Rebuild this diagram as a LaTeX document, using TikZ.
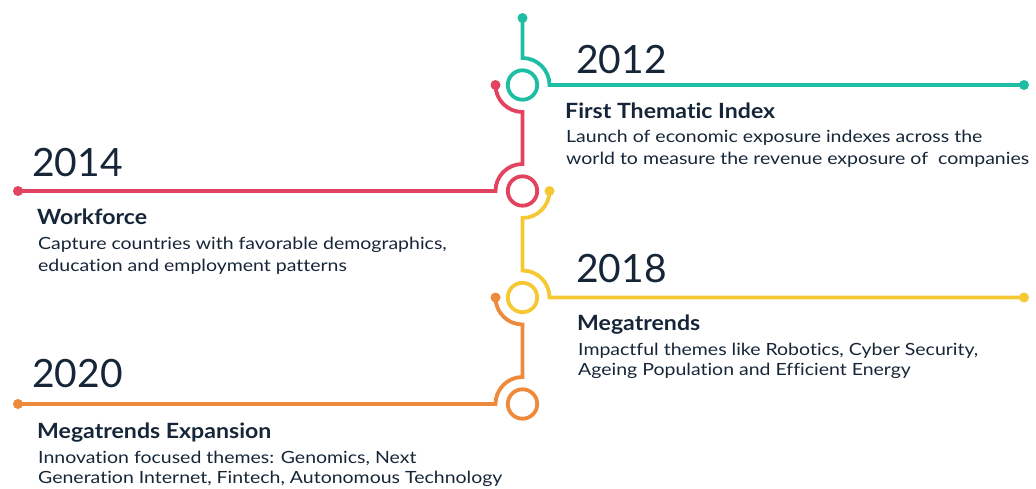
\documentclass[tikz,border=0pt]{standalone}
\usepackage{fontspec}
\setmainfont{Lato}[Ligatures=NoCommon]
\newfontfamily\headfont{Lato}[Ligatures=NoCommon,FakeStretch=1.10]
\newfontfamily\bodyfont{Lato}[Ligatures=NoCommon,FakeStretch=1.16]
\definecolor{tealc}{RGB}{30,190,164}
\definecolor{redc}{RGB}{226,68,95}
\definecolor{yellowc}{RGB}{246,200,52}
\definecolor{orangec}{RGB}{238,138,60}
\definecolor{ink}{RGB}{22,38,56}
\begin{document}
\begin{tikzpicture}[x=1pt,y=1pt,
  trackline/.style={line width=3.8pt},
  dotmark/.style={circle,fill,inner sep=0pt,minimum size=10pt},
  ringmark/.style={circle,draw,line width=3.8pt,inner sep=0pt,minimum size=29.4pt},
  yearlabel/.style={anchor=base west,inner sep=0pt,text=ink,font=\fontsize{39}{39}\selectfont},
  headlabel/.style={anchor=base west,inner sep=0pt,text=ink,font=\headfont\fontsize{21}{21}\selectfont\bfseries},
  bodylabel/.style={anchor=base west,inner sep=0pt,text=ink,font=\bodyfont\fontsize{16.8}{17}\selectfont}]
\useasboundingbox (0,0) rectangle (1036,-489);

% rings on the central spine
\node[ringmark,tealc]   (c1) at (522.5,-85) {};
\node[ringmark,redc]    (c2) at (522.5,-191) {};
\node[ringmark,yellowc] (c3) at (522.5,-297.5) {};
\node[ringmark,orangec] (c4) at (522.5,-404) {};

% end dots
\node[dotmark,tealc]   (t0) at (522.5,-18) {};
\node[dotmark,tealc]   (t1) at (1024,-85) {};
\node[dotmark,redc]    (r0) at (495.5,-85) {};
\node[dotmark,redc]    (r1) at (18,-191) {};
\node[dotmark,yellowc] (y0) at (549.5,-191) {};
\node[dotmark,yellowc] (y1) at (1024,-297.5) {};
\node[dotmark,orangec] (o0) at (495.5,-297.5) {};
\node[dotmark,orangec] (o1) at (18,-404) {};

% tracks
\draw[trackline,tealc] (t0.center) -- ++(0,-40) arc[start angle=90,end angle=0,radius=27] -- (t1.center);
\draw[trackline,redc] (r0.center) arc[start angle=180,end angle=270,radius=27] -- ++(0,-52) arc[start angle=90,end angle=180,radius=27] -- (r1.center);
\draw[trackline,yellowc] (y0.center) arc[start angle=0,end angle=-90,radius=27] -- ++(0,-52.5) arc[start angle=90,end angle=0,radius=27] -- (y1.center);
\draw[trackline,orangec] (o0.center) arc[start angle=180,end angle=270,radius=27] -- ++(0,-52.5) arc[start angle=90,end angle=180,radius=27] -- (o1.center);

% 2012
\node[yearlabel] (y2012) at (576,-73.3) {2012};
\node[headlabel] (h2012) at (565,-118.3) {First Thematic Index};
\node[bodylabel] (b2012a) at (566,-143) {Launch of economic exposure indexes across the};
\node[bodylabel] (b2012b) at (566,-165) {world to measure the revenue exposure of\ \ companies};

% 2014
\node[yearlabel] (y2014) at (32,-176.7) {2014};
\node[headlabel] (h2014) at (37,-225) {Workforce};
\node[bodylabel] (b2014a) at (38,-250) {Capture countries with favorable demographics,};
\node[bodylabel] (b2014b) at (38,-271.7) {education and employment patterns};

% 2018
\node[yearlabel] (y2018) at (576,-282.3) {2018};
\node[headlabel] (h2018) at (577,-330) {Megatrends};
\node[bodylabel] (b2018a) at (578,-355) {Impactful themes like Robotics, Cyber Security,};
\node[bodylabel] (b2018b) at (578,-375.5) {Ageing Population and Efficient Energy};

% 2020
\node[yearlabel] (y2020) at (32,-387.3) {2020};
\node[headlabel] (h2020) at (37,-438.3) {Megatrends Expansion};
\node[bodylabel] (b2020a) at (38,-463.3) {Innovation focused themes: Genomics, Next};
\node[bodylabel] (b2020b) at (38,-483.5) {Generation Internet, Fintech, Autonomous Technology};
\end{tikzpicture}
\end{document}
